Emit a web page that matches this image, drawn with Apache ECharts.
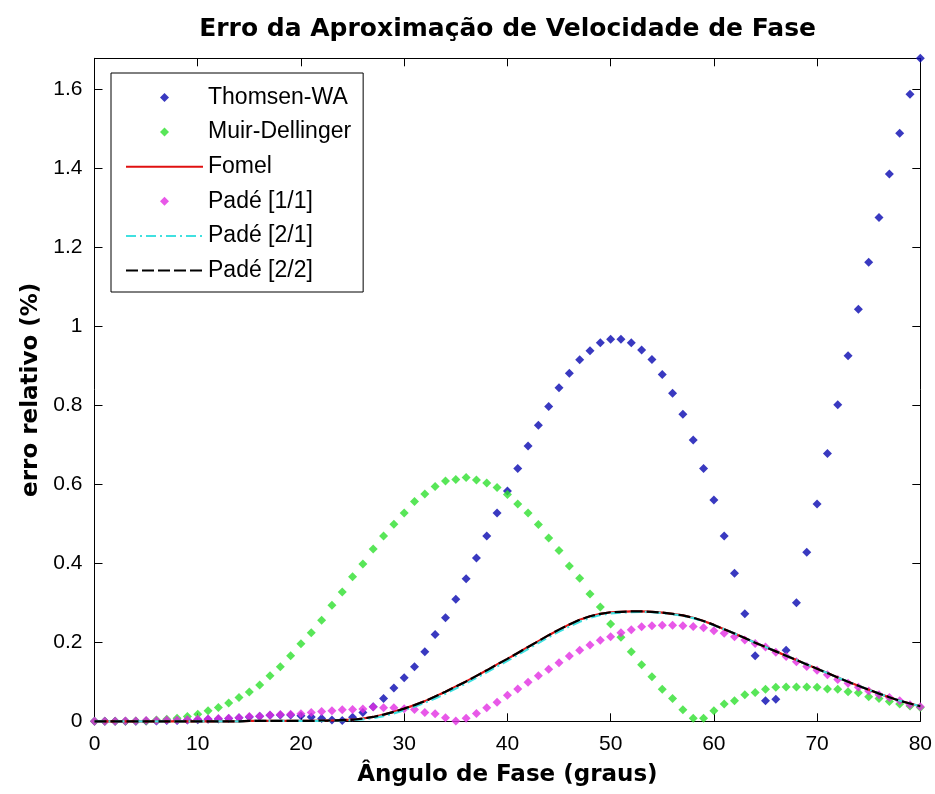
<!DOCTYPE html>
<html>
<head>
<meta charset="utf-8">
<title>Erro da Aproximação de Velocidade de Fase</title>
<script src="https://cdn.jsdelivr.net/npm/echarts@6/dist/echarts.min.js"></script>
<style>
  html, body { margin: 0; padding: 0; background: #ffffff; }
  #chart { width: 935px; height: 794px; }
</style>
</head>
<body>
<div id="chart"></div>
<script>
// Phase angle (degrees)
const angles = [
  0, 1, 2, 3, 4, 5, 6, 7, 8, 9,
  10, 11, 12, 13, 14, 15, 16, 17, 18, 19,
  20, 21, 22, 23, 24, 25, 26, 27, 28, 29,
  30, 31, 32, 33, 34, 35, 36, 37, 38, 39,
  40, 41, 42, 43, 44, 45, 46, 47, 48, 49,
  50, 51, 52, 53, 54, 55, 56, 57, 58, 59,
  60, 61, 62, 63, 64, 65, 66, 67, 68, 69,
  70, 71, 72, 73, 74, 75, 76, 77, 78, 79,
  80
];

// Relative error (%) of each approximation
const thomsenWA = [
  0, 0, 0, 0, 0, 0.001, 0.001, 0.002, 0.002, 0.003,
  0.004, 0.005, 0.006, 0.007, 0.009, 0.011, 0.013, 0.015, 0.016, 0.016,
  0.014, 0.011, 0.007, 0.003, 0.002, 0.010, 0.022, 0.037, 0.058, 0.084,
  0.110, 0.138, 0.176, 0.220, 0.262, 0.309, 0.361, 0.413, 0.469, 0.527,
  0.583, 0.640, 0.697, 0.749, 0.797, 0.844, 0.881, 0.915, 0.938, 0.958,
  0.967, 0.967, 0.958, 0.940, 0.916, 0.878, 0.830, 0.777, 0.712, 0.640,
  0.560, 0.469, 0.375, 0.272, 0.166, 0.052, 0.056, 0.180, 0.300, 0.428,
  0.550, 0.678, 0.801, 0.925, 1.043, 1.162, 1.275, 1.385, 1.488, 1.587,
  1.678
];

const muirDellinger = [
  0, 0, 0, 0, 0.001, 0.001, 0.003, 0.005, 0.008, 0.012,
  0.018, 0.027, 0.035, 0.046, 0.060, 0.074, 0.092, 0.115, 0.138, 0.166,
  0.196, 0.224, 0.256, 0.294, 0.327, 0.366, 0.398, 0.436, 0.469, 0.499,
  0.527, 0.556, 0.575, 0.594, 0.608, 0.612, 0.617, 0.611, 0.603, 0.592,
  0.574, 0.550, 0.527, 0.498, 0.464, 0.432, 0.393, 0.362, 0.322, 0.289,
  0.246, 0.213, 0.176, 0.143, 0.113, 0.081, 0.058, 0.029, 0.008, 0.008,
  0.027, 0.044, 0.052, 0.067, 0.073, 0.081, 0.086, 0.087, 0.087, 0.087,
  0.086, 0.082, 0.081, 0.075, 0.072, 0.062, 0.058, 0.050, 0.044, 0.039,
  0.035
];

const fomel = [
  0, 0, 0, 0, 0, 0, 0, 0, 0, 0,
  0, 0, 0, 0, 0, 0.001, 0.001, 0.001, 0.001, 0.001,
  0.001, 0.001, 0.002, 0.002, 0.003, 0.004, 0.007, 0.011, 0.017, 0.024,
  0.032, 0.041, 0.051, 0.063, 0.075, 0.088, 0.101, 0.115, 0.129, 0.144,
  0.158, 0.173, 0.188, 0.203, 0.218, 0.232, 0.245, 0.257, 0.266, 0.272,
  0.276, 0.277, 0.278, 0.278, 0.277, 0.275, 0.272, 0.268, 0.262, 0.254,
  0.244, 0.233, 0.222, 0.211, 0.199, 0.188, 0.177, 0.166, 0.155, 0.144,
  0.133, 0.122, 0.111, 0.100, 0.090, 0.080, 0.070, 0.061, 0.052, 0.045,
  0.038
];

const padeOneOne = [
  0, 0, 0, 0.001, 0.001, 0.002, 0.002, 0.003, 0.003, 0.004,
  0.005, 0.006, 0.007, 0.008, 0.009, 0.012, 0.013, 0.016, 0.017, 0.018,
  0.019, 0.022, 0.025, 0.027, 0.029, 0.030, 0.031, 0.036, 0.034, 0.034,
  0.032, 0.030, 0.022, 0.019, 0.009, 0.001, 0.008, 0.020, 0.034, 0.048,
  0.066, 0.082, 0.099, 0.115, 0.132, 0.148, 0.165, 0.180, 0.193, 0.205,
  0.214, 0.224, 0.232, 0.239, 0.242, 0.243, 0.243, 0.242, 0.240, 0.237,
  0.229, 0.223, 0.214, 0.206, 0.197, 0.188, 0.175, 0.164, 0.151, 0.139,
  0.129, 0.118, 0.106, 0.096, 0.086, 0.077, 0.067, 0.060, 0.052, 0.042,
  0.037
];

const padeTwoOne = [
  0, 0, 0, 0, 0, 0, 0, 0, 0, 0,
  0, 0, 0, 0, 0, 0.001, 0.001, 0.001, 0.001, 0.001,
  0.001, 0.001, 0.001, 0.002, 0.002, 0.003, 0.005, 0.008, 0.013, 0.020,
  0.028, 0.037, 0.047, 0.058, 0.070, 0.083, 0.096, 0.110, 0.124, 0.139,
  0.153, 0.168, 0.183, 0.198, 0.213, 0.227, 0.240, 0.252, 0.262, 0.269,
  0.273, 0.275, 0.276, 0.277, 0.276, 0.274, 0.271, 0.267, 0.261, 0.253,
  0.243, 0.233, 0.222, 0.211, 0.199, 0.188, 0.177, 0.166, 0.155, 0.144,
  0.133, 0.122, 0.111, 0.100, 0.090, 0.080, 0.070, 0.061, 0.052, 0.045,
  0.038
];

const padeTwoTwo = [
  0, 0, 0, 0, 0, 0, 0, 0, 0, 0,
  0, 0, 0, 0, 0, 0.001, 0.001, 0.001, 0.001, 0.001,
  0.001, 0.001, 0.002, 0.002, 0.003, 0.004, 0.007, 0.011, 0.017, 0.024,
  0.032, 0.041, 0.051, 0.063, 0.075, 0.088, 0.101, 0.115, 0.129, 0.144,
  0.158, 0.173, 0.188, 0.203, 0.218, 0.232, 0.245, 0.257, 0.266, 0.272,
  0.276, 0.277, 0.278, 0.278, 0.277, 0.275, 0.272, 0.268, 0.262, 0.254,
  0.244, 0.233, 0.222, 0.211, 0.199, 0.188, 0.177, 0.166, 0.155, 0.144,
  0.133, 0.122, 0.111, 0.100, 0.090, 0.080, 0.070, 0.061, 0.052, 0.045,
  0.038
];

const seriesNames = ['Thomsen-WA', 'Muir-Dellinger', 'Fomel', 'Padé [1/1]', 'Padé [2/1]', 'Padé [2/2]'];
const lineNames = ['Fomel', 'Padé [2/1]', 'Padé [2/2]'];

const pairs = (ys) => angles.map((a, i) => [a, ys[i]]);

const SANS = "'Liberation Sans', Arial, sans-serif";
const BOLD = "'DejaVu Sans', sans-serif";

// Legend swatch: a small diamond centred in the full-width legend icon box
const LEGEND_W = 77;
const LEGEND_H = 9;
const diamondIcon = 'path://M0,0M' + LEGEND_W + ',' + LEGEND_H +
  'M38.5,0L43,4.5L38.5,9L34,4.5Z';

function markerSeries(name, values, color) {
  return {
    name: name,
    type: 'scatter',
    symbol: 'diamond',
    symbolSize: 9,
    clip: false,
    itemStyle: { color: color },
    data: pairs(values),
    z: 2
  };
}

function lineSeries(name, values, color, dash) {
  return {
    name: name,
    type: 'line',
    symbol: 'none',
    showSymbol: false,
    clip: false,
    lineStyle: { color: color, width: 2.2, type: dash },
    itemStyle: { color: color },
    data: pairs(values),
    z: 3
  };
}

// Legend entries: diamonds for the marker series, bare line samples for the curves
const legendItems = seriesNames.map((n) => lineNames.includes(n)
  ? { name: n, itemStyle: { color: 'rgba(0,0,0,0)', borderWidth: 0, opacity: 0 } }
  : { name: n, icon: diamondIcon });

const tickStyle = { show: true, inside: true, length: 8, lineStyle: { color: '#000', width: 1 } };
const axisLineStyle = { show: true, onZero: false, lineStyle: { color: '#000', width: 1 } };

const option = {
  backgroundColor: '#ffffff',
  animation: false,
  title: {
    text: 'Erro da Aproximação de Velocidade de Fase',
    left: 507.6,
    top: 17,
    textAlign: 'center',
    padding: 0,
    textStyle: { fontFamily: BOLD, fontWeight: 'bold', fontSize: 25, color: '#000' }
  },
  grid: { left: 94.5, right: 14.3, top: 58.3, bottom: 72.7, containLabel: false },
  legend: {
    data: legendItems,
    orient: 'vertical',
    left: 111,
    top: 73,
    padding: [12, 12, 9, 14],
    itemWidth: LEGEND_W,
    itemHeight: LEGEND_H,
    itemGap: 9.6,
    symbolKeepAspect: false,
    backgroundColor: '#ffffff',
    borderColor: '#000',
    borderWidth: 1,
    borderRadius: 0,
    selectedMode: false,
    textStyle: { fontFamily: SANS, fontSize: 23, color: '#000', lineHeight: 25 }
  },
  xAxis: [
    {
      type: 'value',
      min: 0,
      max: 80,
      interval: 10,
      position: 'bottom',
      name: 'Ângulo de Fase (graus)',
      nameLocation: 'middle',
      nameGap: 42,
      nameTextStyle: { fontFamily: BOLD, fontWeight: 'bold', fontSize: 23, color: '#000' },
      axisLine: axisLineStyle,
      axisTick: tickStyle,
      splitLine: { show: false },
      axisLabel: { margin: 12, fontFamily: SANS, fontSize: 21, color: '#000' }
    },
    {
      type: 'value',
      min: 0,
      max: 80,
      interval: 10,
      position: 'top',
      axisLine: axisLineStyle,
      axisTick: tickStyle,
      splitLine: { show: false },
      axisLabel: { show: false }
    }
  ],
  yAxis: [
    {
      type: 'value',
      min: 0,
      max: 1.678,
      interval: 0.2,
      position: 'left',
      name: 'erro relativo (%)',
      nameLocation: 'middle',
      nameGap: 37,
      nameTextStyle: { fontFamily: BOLD, fontWeight: 'bold', fontSize: 23, color: '#000' },
      axisLine: axisLineStyle,
      axisTick: tickStyle,
      splitLine: { show: false },
      axisLabel: { margin: 12, fontFamily: SANS, fontSize: 21, color: '#000', showMaxLabel: false }
    },
    {
      type: 'value',
      min: 0,
      max: 1.678,
      interval: 0.2,
      position: 'right',
      axisLine: axisLineStyle,
      axisTick: tickStyle,
      splitLine: { show: false },
      axisLabel: { show: false }
    }
  ],
  series: [
    markerSeries('Thomsen-WA', thomsenWA, '#0808b0'),
    markerSeries('Muir-Dellinger', muirDellinger, '#2ee02e'),
    lineSeries('Fomel', fomel, '#e01010', 'solid'),
    markerSeries('Padé [1/1]', padeOneOne, '#e22ee2'),
    lineSeries('Padé [2/1]', padeTwoOne, '#40e0e0', [10, 4, 2, 4]),
    lineSeries('Padé [2/2]', padeTwoTwo, '#000000', [12, 4])
  ]
};

const chart = echarts.init(document.getElementById('chart'), null, { renderer: 'canvas' });
chart.setOption(option);
</script>
</body>
</html>
